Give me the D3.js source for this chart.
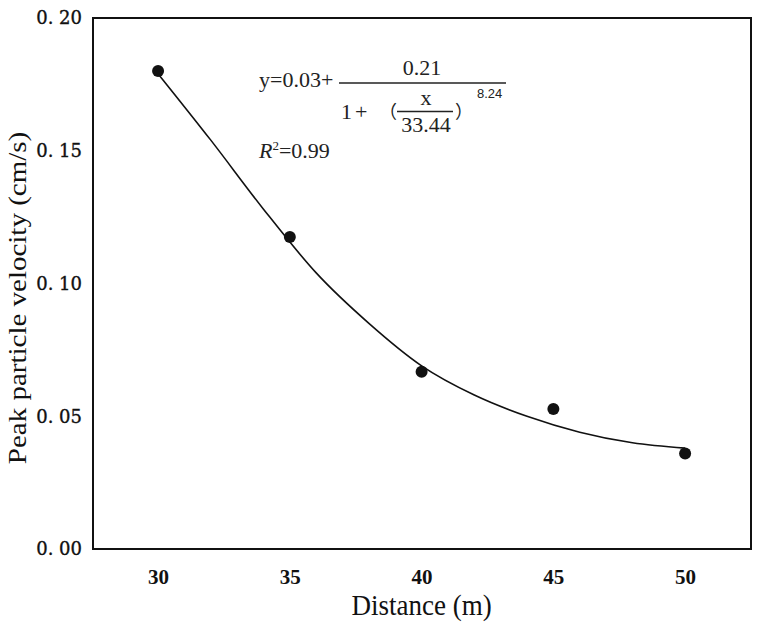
<!DOCTYPE html>
<html>
<head>
<meta charset="utf-8">
<script src="https://cdn.jsdelivr.net/npm/d3@7/dist/d3.min.js"></script>
<style>
  html, body { margin: 0; padding: 0; background: #fff; }
  svg { display: block; }
</style>
</head>
<body>
<div id="chart"></div>
<script>
// Measured points
const distance = [30, 35, 40, 45, 50];
const velocity = [0.180, 0.1175, 0.0668, 0.0527, 0.0360];

// Fitted curve as drawn in the picture
const fitX = [30, 32, 34, 36, 38, 40, 42, 44, 46, 48, 50];
const fitY = [0.179, 0.154, 0.128, 0.104, 0.085, 0.069, 0.058, 0.050, 0.044, 0.040, 0.038];

const xTicks = [30, 35, 40, 45, 50];
const yTicks = [0, 0.05, 0.10, 0.15, 0.20];

const width = 760, height = 627;
const margin = { top: 18, right: 9, bottom: 78, left: 93 };

const svg = d3.select('#chart').append('svg')
  .attr('width', width)
  .attr('height', height);

const x = d3.scaleLinear().domain([27.53, 52.5]).range([margin.left, width - margin.right]);
const y = d3.scaleLinear().domain([0, 0.2]).range([height - margin.bottom, margin.top]);

const serif = "'Liberation Serif', 'Times New Roman', serif";
const tickFont = "'DejaVu Serif', serif";

// Axes (labels only, no tick marks)
const xAxis = svg.append('g')
  .attr('transform', `translate(0,${height - margin.bottom})`)
  .call(d3.axisBottom(x).tickValues(xTicks).tickSize(0).tickPadding(0).tickFormat(d3.format('d')));
xAxis.select('.domain').remove();
xAxis.selectAll('text')
  .attr('y', 35)
  .attr('dy', null)
  .attr('font-family', serif)
  .attr('font-size', '21px')
  .attr('font-weight', 'bold')
  .attr('fill', '#111');

const yAxis = svg.append('g')
  .attr('transform', `translate(${margin.left},0)`)
  .call(d3.axisLeft(y).tickValues(yTicks).tickSize(0).tickPadding(11)
    .tickFormat(d => d3.format('.2f')(d).replace('.', '. ')));
yAxis.select('.domain').remove();
yAxis.selectAll('text')
  .attr('font-family', tickFont)
  .attr('font-size', '18px')
  .attr('fill', '#111')
  .attr('stroke', '#111')
  .attr('stroke-width', 0.35);

// Frame
svg.append('rect')
  .attr('x', margin.left)
  .attr('y', margin.top)
  .attr('width', width - margin.left - margin.right)
  .attr('height', height - margin.top - margin.bottom)
  .attr('fill', 'none')
  .attr('stroke', '#111')
  .attr('stroke-width', 2);

// Fit curve
const line = d3.line()
  .x((d, i) => x(fitX[i]))
  .y(d => y(d))
  .curve(d3.curveMonotoneX);

svg.append('path')
  .datum(fitY)
  .attr('d', line)
  .attr('fill', 'none')
  .attr('stroke', '#111')
  .attr('stroke-width', 1.6);

// Points
svg.append('g').selectAll('circle')
  .data(velocity)
  .join('circle')
  .attr('cx', (d, i) => x(distance[i]))
  .attr('cy', d => y(d))
  .attr('r', 6)
  .attr('fill', '#111');

// Axis titles (source image is slightly squeezed horizontally)
svg.append('text')
  .attr('transform', `translate(${x(40)},615) scale(0.9,1)`)
  .attr('text-anchor', 'middle')
  .attr('font-family', serif)
  .attr('font-size', '30px')
  .attr('fill', '#111')
  .text('Distance (m)');

svg.append('text')
  .attr('transform', 'translate(26,298) rotate(-90) scale(1,0.88)')
  .attr('text-anchor', 'middle')
  .attr('font-family', serif)
  .attr('font-size', '29px')
  .attr('fill', '#111')
  .text('Peak particle velocity (cm/s)');

// Equation annotation
const eq = svg.append('g')
  .attr('font-family', serif)
  .attr('fill', '#222');

eq.append('text').attr('x', 259).attr('y', 87).attr('font-size', '22px').text('y=0.03+');
eq.append('line').attr('x1', 339).attr('x2', 506).attr('y1', 83).attr('y2', 83)
  .attr('stroke', '#222').attr('stroke-width', 1.5);
eq.append('text').attr('x', 422).attr('y', 75).attr('text-anchor', 'middle')
  .attr('font-size', '22px').text('0.21');
eq.append('text').attr('x', 477).attr('y', 98).attr('font-size', '13px')
  .attr('font-family', "'Liberation Sans', sans-serif").text('8.24');
eq.append('text').attr('x', 341).attr('y', 119).attr('font-size', '22px')
  .attr('letter-spacing', '3px').text('1+');
eq.append('text').attr('x', 397).attr('y', 118).attr('text-anchor', 'end')
  .attr('font-size', '18px').attr('font-family', "'Noto Sans CJK SC', sans-serif").text('（');
eq.append('text').attr('x', 426).attr('y', 105).attr('text-anchor', 'middle')
  .attr('font-size', '22px').text('x');
eq.append('line').attr('x1', 397).attr('x2', 453).attr('y1', 111.5).attr('y2', 111.5)
  .attr('stroke', '#222').attr('stroke-width', 1.5);
eq.append('text').attr('x', 426).attr('y', 132).attr('text-anchor', 'middle')
  .attr('font-size', '22px').text('33.44');
eq.append('text').attr('x', 455).attr('y', 118).attr('text-anchor', 'start')
  .attr('font-size', '18px').attr('font-family', "'Noto Sans CJK SC', sans-serif").text('）');

const r2 = eq.append('text').attr('x', 259).attr('y', 158).attr('font-size', '22px');
r2.append('tspan').attr('font-style', 'italic').text('R');
r2.append('tspan').attr('font-size', '13px').attr('dy', -8).text('2');
r2.append('tspan').attr('dy', 8).text('=0.99');
</script>
</body>
</html>
